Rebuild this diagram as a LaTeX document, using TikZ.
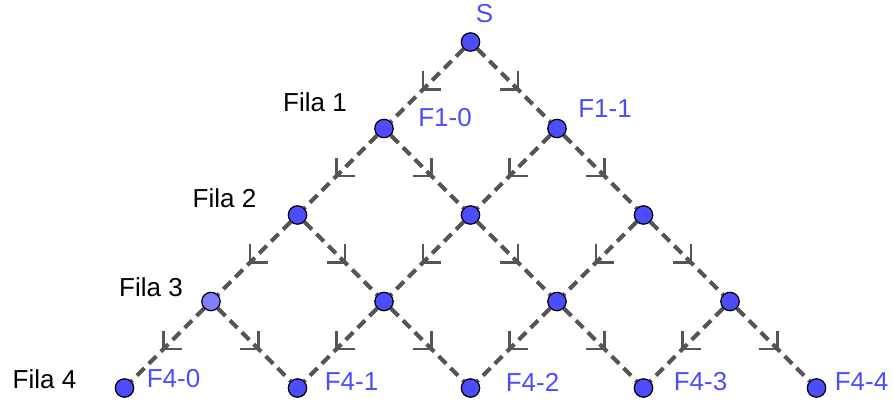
\documentclass[tikz,border=0pt]{standalone}
\usepackage{fontspec}
\setmainfont{Liberation Sans}
\usetikzlibrary{arrows.meta,positioning,decorations.markings}
\definecolor{ggblue}{RGB}{77,77,255}
\definecolor{ggltblue}{RGB}{128,128,255}
\definecolor{edgegray}{RGB}{85,85,85}
\tikzset{
  vtx/.style={circle,draw=black,line width=0.9pt,fill=ggblue,minimum size=0.46cm,inner sep=0pt},
  vtxlt/.style={vtx,fill=ggltblue},
  arr/.style={edgegray,line width=3pt,dash pattern=on 7.5pt off 4.5pt,
    decoration={markings,mark=at position 0.58 with {\arrow{Straight Barb[angle=90:13pt,line width=2pt]}}},
    postaction={decorate}},
  flbl/.style={font=\fontsize{18.5}{22}\selectfont,text=ggblue,inner sep=0pt},
  rlbl/.style={font=\fontsize{18.5}{22}\selectfont,text=black,inner sep=0pt}
}

\begin{document}
\begin{tikzpicture}[on grid,node distance=2.1625cm and 2.1625cm]
  \useasboundingbox (-11.7625,-9.025) rectangle (10.5625,1.05);

  \node[vtx] (s) at (0,0) {};
  \node[vtx,below left=of s] (f10) {};
  \node[vtx,below right=of s] (f11) {};
  \node[vtx,below left=of f10] (f20) {};
  \node[vtx,below right=of f10] (f21) {};
  \node[vtx,below right=of f11] (f22) {};
  \node[vtxlt,below left=of f20] (f30) {};
  \node[vtx,below right=of f20] (f31) {};
  \node[vtx,below right=of f21] (f32) {};
  \node[vtx,below right=of f22] (f33) {};
  \node[vtx,below left=of f30] (f40) {};
  \node[vtx,below right=of f30] (f41) {};
  \node[vtx,below right=of f31] (f42) {};
  \node[vtx,below right=of f32] (f43) {};
  \node[vtx,below right=of f33] (f44) {};

  \draw[arr] (s)--(f10);
  \draw[arr] (s)--(f11);
  \draw[arr] (f10)--(f20);
  \draw[arr] (f10)--(f21);
  \draw[arr] (f11)--(f21);
  \draw[arr] (f11)--(f22);
  \draw[arr] (f20)--(f30);
  \draw[arr] (f20)--(f31);
  \draw[arr] (f21)--(f31);
  \draw[arr] (f21)--(f32);
  \draw[arr] (f22)--(f32);
  \draw[arr] (f22)--(f33);
  \draw[arr] (f30)--(f40);
  \draw[arr] (f30)--(f41);
  \draw[arr] (f31)--(f41);
  \draw[arr] (f31)--(f42);
  \draw[arr] (f32)--(f42);
  \draw[arr] (f32)--(f43);
  \draw[arr] (f33)--(f43);
  \draw[arr] (f33)--(f44);

  \node[flbl,above right=0.7cm and 0.35cm of s] (ls) {S};
  \node[flbl,above right=0.275cm and 1.525cm of f10] (l10) {F1-0};
  \node[flbl,above right=0.5cm and 1.2cm of f11] (l11) {F1-1};
  \node[flbl,above right=0.225cm and 1.225cm of f40] (l40) {F4-0};
  \node[flbl,above right=0.15cm and 1.35cm of f41] (l41) {F4-1};
  \node[flbl,above right=0.15cm and 1.55cm of f42] (l42) {F4-2};
  \node[flbl,above right=0.15cm and 1.425cm of f43] (l43) {F4-3};
  \node[flbl,above right=0.15cm and 1.125cm of f44] (l44) {F4-4};

  \node[rlbl,above left=0.65cm and 1.725cm of f10] (r1) {Fila 1};
  \node[rlbl,above left=0.425cm and 1.825cm of f20] (r2) {Fila 2};
  \node[rlbl,above left=0.35cm and 1.5cm of f30] (r3) {Fila 3};
  \node[rlbl,above left=0.225cm and 2.0cm of f40] (r4) {Fila 4};
\end{tikzpicture}
\end{document}
